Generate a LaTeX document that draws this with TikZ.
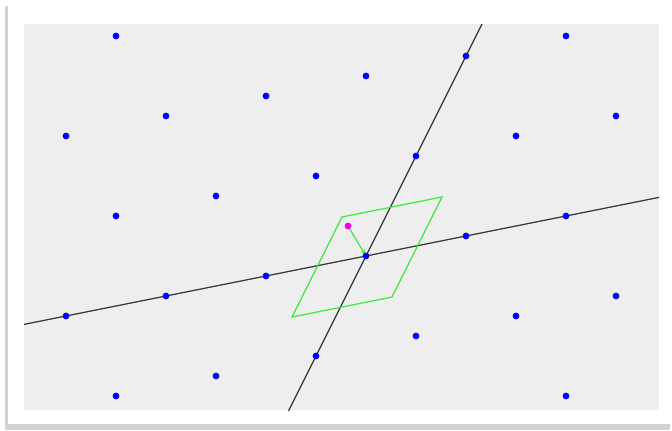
\documentclass[tikz,border=0pt]{standalone}
\usetikzlibrary{arrows.meta}

\tikzset{every picture/.style={line width=0.75pt}}
\definecolor{panel}{RGB}{238,238,238}
\definecolor{dotblue}{RGB}{0,0,255}
\definecolor{cellgreen}{RGB}{60,235,60}
\definecolor{pointpink}{RGB}{235,0,235}
\tikzset{
lattice dot/.style={fill=dotblue},
axis line/.style={draw=black!80, line width=0.9pt},
cell/.style={draw=cellgreen, line width=0.9pt}}

\begin{document}
\begin{tikzpicture}[x=0.75pt,y=0.75pt,yscale=-1,xscale=1]

\useasboundingbox (0,0) rectangle (672,430);

% FRAME

\fill [gray!35] (5,6) rectangle (670,430);
\fill [white] (8,4) rectangle (670,424);
\fill [panel] (24,24) rectangle (659,410);

% COORDINATES

\coordinate (O) at (366,256);
\coordinate (p) at (348,226);

\def\radius{3.4}

\begin{scope}
\clip (24,24) rectangle (659,410);

% LINES

\draw [axis line] (-34,336) -- (766,176) ;
\draw [axis line] (241,506) -- (491,6) ;

% CELL

\draw [cell] (342,217) -- (442,197) -- (392,297) -- (292,317) -- cycle ;
\draw [cell, -{Stealth[length=5pt,width=3.5pt]}] (p) -- (O) ;

% LATTICE

\foreach \a in {-8,...,8}{
    \foreach \b in {-4,...,4}{
        \fill [lattice dot] ({366+100*\a+50*\b},{256-20*\a-100*\b}) circle[radius=\radius];
    }
}
\end{scope}

% POINT

\fill [pointpink] (p) circle[radius=\radius];

\end{tikzpicture}
\end{document}
